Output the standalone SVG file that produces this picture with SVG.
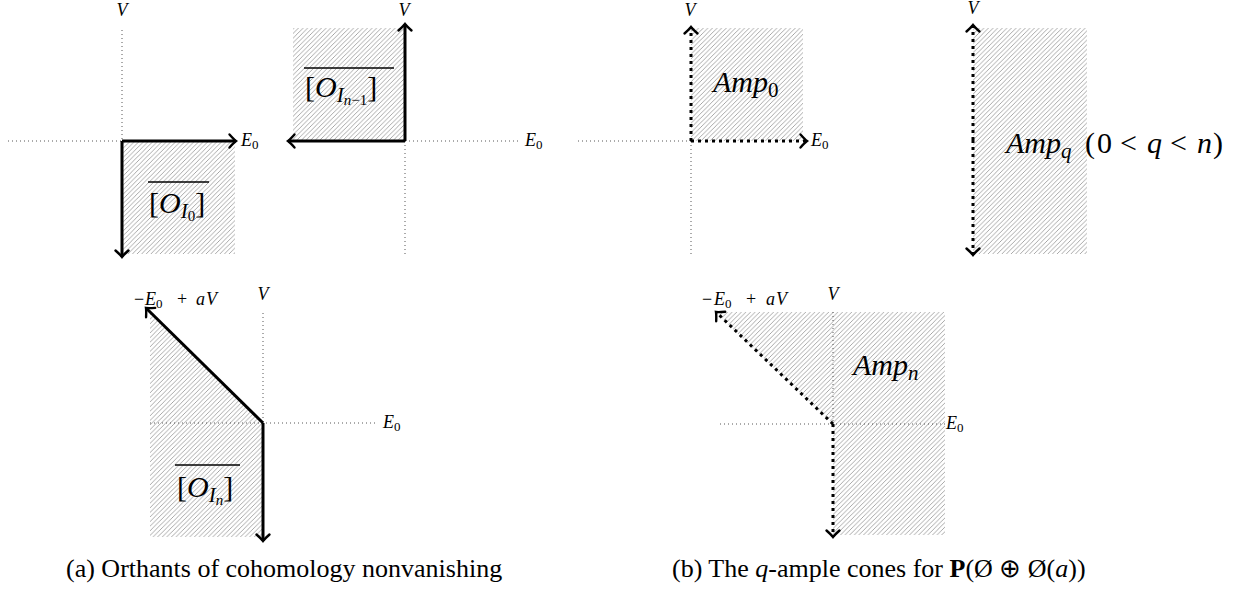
<svg xmlns="http://www.w3.org/2000/svg" width="1258" height="591" viewBox="0 0 1258 591">
<style>
text{font-family:"Liberation Serif","Times New Roman",serif;fill:#000}
.it{font-style:italic}
.ax{stroke:#444;stroke-width:0.9;stroke-dasharray:1 3;fill:none}
.th{stroke:#000;stroke-width:3;fill:none;marker-end:url(#ah)}
.td{stroke:#000;stroke-width:3;fill:none;stroke-dasharray:3 4;marker-end:url(#ah)}
.hatch{fill:url(#hp);stroke:none}
.sm{font-size:18px}
.sub{font-size:13px;font-style:normal}
.big{font-size:30px}
.ol{stroke:#000;stroke-width:1.6}
.cap{font-size:26px}
</style>
<defs>
<pattern id="hp" patternUnits="userSpaceOnUse" width="4.6" height="4.6">
<path d="M-1,5.6 L5.6,-1 M-1,1 L1,-1 M3.6,5.6 L5.6,3.6" stroke="#8c8c8c" stroke-width="0.75"/>
</pattern>
<marker id="ah" markerUnits="userSpaceOnUse" viewBox="-9 -8 11 16" refX="0" refY="0" markerWidth="11" markerHeight="16" orient="auto" overflow="visible">
<path d="M-6.5,-6.5 Q-2,-1.5 0,0 Q-2,1.5 -6.5,6.5" stroke="#000" stroke-width="2.4" fill="none" stroke-linecap="round"/>
</marker>
</defs>

<g id="hatching">
<rect class="hatch" x="122" y="141" width="113" height="113"/>
<rect class="hatch" x="293" y="28" width="112" height="113"/>
<rect class="hatch" x="691" y="28" width="112" height="113"/>
<rect class="hatch" x="973" y="28" width="114" height="226"/>
<polygon class="hatch" points="150,312 263,423 263,537 150,537"/>
<polygon class="hatch" points="715,312 945,312 945,535 833,535 833,424"/>
</g>

<g id="axes">
<line class="ax" x1="122" y1="30" x2="122" y2="141"/>
<line class="ax" x1="8" y1="141" x2="122" y2="141"/>
<line class="ax" x1="405" y1="141" x2="518" y2="141"/>
<line class="ax" x1="405" y1="141" x2="405" y2="255"/>
<line class="ax" x1="578" y1="141" x2="691" y2="141"/>
<line class="ax" x1="691" y1="141" x2="691" y2="255"/>
<line class="ax" x1="263" y1="313" x2="263" y2="423"/>
<line class="ax" x1="150" y1="423" x2="377" y2="423"/>
<line class="ax" x1="833" y1="312" x2="833" y2="424"/>
<line class="ax" x1="720" y1="424" x2="945" y2="424"/>
</g>

<g id="connectors">
<line class="th" x1="122" y1="141" x2="236" y2="141"/>
<line class="th" x1="122" y1="141" x2="122" y2="257"/>
<line class="th" x1="405" y1="141" x2="405" y2="24"/>
<line class="th" x1="405" y1="141" x2="288" y2="141"/>
<line class="td" x1="691" y1="141" x2="691" y2="27"/>
<line class="td" x1="691" y1="141" x2="807" y2="141"/>
<line class="td" x1="973" y1="140" x2="973" y2="25"/>
<line class="td" x1="973" y1="140" x2="973" y2="255"/>
<line class="th" x1="263" y1="423" x2="146" y2="308"/>
<line class="th" x1="263" y1="423" x2="263" y2="541"/>
<line class="td" x1="833" y1="424" x2="716" y2="312"/>
<line class="td" x1="833" y1="424" x2="833" y2="537"/>
</g>

<g id="panel-a1">
<text class="sm it" x="122" y="16" text-anchor="middle">V</text>
<text class="sm it" x="241" y="146">E<tspan class="sub" dy="3">0</tspan></text>
<line class="ol" x1="148" y1="182" x2="209" y2="182"/>
<text class="big" x="149" y="213">[<tspan class="it">O</tspan><tspan class="it" font-size="21" dy="5">I</tspan><tspan font-size="15" dy="3">0</tspan><tspan dy="-8">]</tspan></text>
</g>

<g id="panel-a2">
<text class="sm it" x="404" y="16" text-anchor="middle">V</text>
<text class="sm it" x="525" y="146">E<tspan class="sub" dy="3">0</tspan></text>
<line class="ol" x1="304" y1="68" x2="394" y2="68"/>
<text class="big" x="305" y="97">[<tspan class="it">O</tspan><tspan class="it" font-size="21" dy="5">I</tspan><tspan class="it" font-size="15" dy="3">n</tspan><tspan font-size="15">−1</tspan><tspan dy="-8">]</tspan></text>
</g>

<g id="panel-b1">
<text class="sm it" x="690" y="16" text-anchor="middle">V</text>
<text class="sm it" x="811" y="146">E<tspan class="sub" dy="3">0</tspan></text>
<text class="big it" x="713" y="92">Amp<tspan font-size="21" dy="5" font-style="normal">0</tspan></text>
</g>

<g id="panel-b2">
<text class="sm it" x="973" y="14" text-anchor="middle">V</text>
<text class="big" y="153"><tspan class="it" x="1006">Amp</tspan><tspan class="it" font-size="21" dy="5">q</tspan><tspan x="1085" dy="-5">(</tspan><tspan x="1097">0</tspan><tspan x="1120">&lt;</tspan><tspan class="it" x="1147">q</tspan><tspan x="1170">&lt;</tspan><tspan class="it" x="1197">n</tspan><tspan x="1213">)</tspan></text>
</g>

<g id="panel-a3">
<text class="sm it" x="263" y="300" text-anchor="middle">V</text>
<text class="sm it" x="383" y="428">E<tspan class="sub" dy="3">0</tspan></text>
<text class="sm" y="305"><tspan x="134">−</tspan><tspan class="it" x="145">E</tspan><tspan class="sub" dy="3">0</tspan><tspan x="177" dy="-3">+</tspan><tspan class="it" x="196">a</tspan><tspan class="it" x="206">V</tspan></text>
<line class="ol" x1="175" y1="465" x2="240" y2="465"/>
<text class="big" x="177" y="497">[<tspan class="it">O</tspan><tspan class="it" font-size="21" dy="5">I</tspan><tspan class="it" font-size="15" dy="3">n</tspan><tspan dy="-8">]</tspan></text>
</g>

<g id="panel-b3">
<text class="sm it" x="833" y="300" text-anchor="middle">V</text>
<text class="sm it" x="946" y="429">E<tspan class="sub" dy="3">0</tspan></text>
<text class="sm" y="305"><tspan x="702">−</tspan><tspan class="it" x="714">E</tspan><tspan class="sub" dy="3">0</tspan><tspan x="746" dy="-3">+</tspan><tspan class="it" x="766">a</tspan><tspan class="it" x="776">V</tspan></text>
<text class="big it" x="853" y="375">Amp<tspan font-size="21" dy="5" class="it">n</tspan></text>
</g>

<g id="captions">
<text class="cap" x="66" y="577">(a) Orthants of cohomology nonvanishing</text>
<text class="cap" x="672" y="577">(b) The <tspan class="it">q</tspan>-ample cones for <tspan font-weight="bold">P</tspan>(Ø ⊕ Ø(<tspan class="it">a</tspan>))</text>
</g>
</svg>
